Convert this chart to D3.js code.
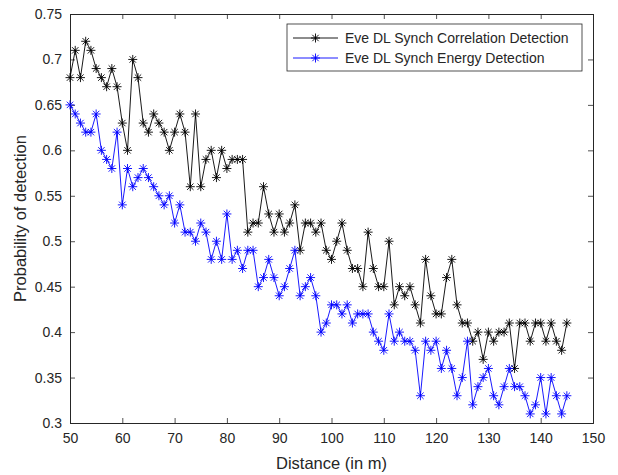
<!DOCTYPE html>
<html><head><meta charset="utf-8">
<script src="https://cdn.jsdelivr.net/npm/d3@7/dist/d3.min.js"></script>
<style>
body{margin:0;background:#fff;}
svg text{font-family:"Liberation Sans",Arial,Helvetica,sans-serif;fill:#262626;}
</style>
</head><body>
<svg id="chart" width="618" height="475"></svg>
<script>
const distances = [50,51,52,53,54,55,56,57,58,59,60,61,62,63,64,65,66,67,68,69,70,71,72,73,74,75,76,77,78,79,
  80,81,82,83,84,85,86,87,88,89,90,91,92,93,94,95,96,97,98,99,100,101,102,103,104,105,106,107,108,109,
  110,111,112,113,114,115,116,117,118,119,120,121,122,123,124,125,126,127,128,129,130,131,132,133,134,135,
  136,137,138,139,140,141,142,143,144,145];
const correlationDetection = [0.68,0.71,0.68,0.72,0.71,0.69,0.68,0.67,0.69,0.67,0.63,0.60,0.70,0.68,0.63,0.62,0.64,0.63,0.62,0.60,
  0.62,0.64,0.62,0.56,0.64,0.56,0.59,0.60,0.57,0.60,0.58,0.59,0.59,0.59,0.51,0.52,0.52,0.56,0.53,0.51,
  0.53,0.51,0.52,0.54,0.49,0.52,0.52,0.51,0.52,0.49,0.48,0.50,0.52,0.49,0.47,0.47,0.45,0.51,0.47,0.45,
  0.45,0.50,0.43,0.45,0.44,0.45,0.43,0.41,0.48,0.44,0.42,0.42,0.46,0.48,0.43,0.41,0.41,0.39,0.40,0.37,
  0.40,0.39,0.40,0.40,0.41,0.36,0.41,0.41,0.39,0.41,0.41,0.39,0.41,0.39,0.38,0.41];
const energyDetection = [0.65,0.64,0.63,0.62,0.62,0.64,0.60,0.59,0.58,0.62,0.54,0.58,0.56,0.57,0.58,0.57,0.56,0.55,0.54,0.55,
  0.52,0.54,0.51,0.51,0.50,0.52,0.51,0.48,0.50,0.48,0.53,0.48,0.49,0.47,0.49,0.49,0.45,0.46,0.48,0.46,
  0.44,0.45,0.47,0.49,0.44,0.45,0.46,0.44,0.40,0.41,0.43,0.43,0.42,0.43,0.41,0.42,0.42,0.42,0.40,0.39,
  0.38,0.42,0.39,0.40,0.39,0.39,0.38,0.33,0.39,0.38,0.39,0.36,0.38,0.36,0.33,0.35,0.39,0.32,0.34,0.35,
  0.36,0.33,0.32,0.34,0.36,0.34,0.34,0.33,0.31,0.32,0.35,0.31,0.35,0.33,0.31,0.33];
const seriesNames = ["Eve DL Synch Correlation Detection","Eve DL Synch Energy Detection"];
const seriesColors = ["#000000","#0000ff"];
const xTicks = [50,60,70,80,90,100,110,120,130,140,150];
const yTicks = [0.3,0.35,0.4,0.45,0.5,0.55,0.6,0.65,0.7,0.75];

const svg = d3.select("#chart");
const L = 70, R = 593, T = 14, B = 423;
const x = d3.scaleLinear().domain([50,150]).range([L,R]);
const y = d3.scaleLinear().domain([0.3,0.75]).range([B,T]);
const axisColor = "#262626";

svg.append("rect").attr("x",L).attr("y",T).attr("width",R-L).attr("height",B-T).attr("fill","#fff");

const tickLen = 5;
const fmtY = d => String(+d.toFixed(2));
const gB = svg.append("g").attr("transform",`translate(0,${B})`).call(d3.axisBottom(x).tickValues(xTicks).tickSize(-tickLen).tickPadding(10).tickFormat(d3.format("d")));
const gT = svg.append("g").attr("transform",`translate(0,${T})`).call(d3.axisTop(x).tickValues(xTicks).tickSize(-tickLen).tickFormat(""));
const gL = svg.append("g").attr("transform",`translate(${L},0)`).call(d3.axisLeft(y).tickValues(yTicks).tickSize(-tickLen).tickPadding(8).tickFormat(fmtY));
const gR = svg.append("g").attr("transform",`translate(${R},0)`).call(d3.axisRight(y).tickValues(yTicks).tickSize(-tickLen).tickFormat(""));
[gB,gT,gL,gR].forEach(g=>{
  g.select(".domain").attr("stroke",axisColor).attr("stroke-width",1);
  g.selectAll(".tick line").attr("stroke",axisColor).attr("stroke-width",0.8);
  g.selectAll("text").attr("font-size",14).attr("fill",axisColor).attr("font-family",null);
});

const series = [correlationDetection, energyDetection];
const line = d3.line().x((d,i)=>x(distances[i])).y(d=>y(d));
const star = "M-4.5,0L4.5,0M0,-4.5L0,4.5M-3.2,-3.2L3.2,3.2M-3.2,3.2L3.2,-3.2";

series.forEach((vals,si)=>{
  svg.append("path").datum(vals).attr("d",line).attr("fill","none")
    .attr("stroke",seriesColors[si]).attr("stroke-width",0.9);
  svg.append("g").selectAll("path").data(vals).join("path")
    .attr("transform",(d,i)=>`translate(${x(distances[i])},${y(d)})`)
    .attr("d",star).attr("stroke",seriesColors[si]).attr("stroke-width",0.9).attr("fill","none");
});

svg.append("text").attr("x",(L+R)/2).attr("y",469).attr("text-anchor","middle")
  .attr("font-size",16.5).text("Distance (in m)");
svg.append("text").attr("transform",`translate(26,${(T+B)/2}) rotate(-90)`).attr("text-anchor","middle")
  .attr("font-size",16.5).text("Probability of detection");

const lg = svg.append("g");
lg.append("rect").attr("x",287).attr("y",24).attr("width",295).attr("height",47)
  .attr("fill","#fff").attr("stroke",axisColor).attr("stroke-width",0.8);
seriesNames.forEach((name,i)=>{
  const cy = 38 + i*20;
  lg.append("line").attr("x1",293).attr("x2",338).attr("y1",cy).attr("y2",cy)
    .attr("stroke",seriesColors[i]).attr("stroke-width",0.9);
  lg.append("path").attr("transform",`translate(315.5,${cy})`).attr("d",star)
    .attr("stroke",seriesColors[i]).attr("stroke-width",0.9).attr("fill","none");
  lg.append("text").attr("x",345).attr("y",cy+5).attr("font-size",14).text(name);
});
</script>
</body></html>
